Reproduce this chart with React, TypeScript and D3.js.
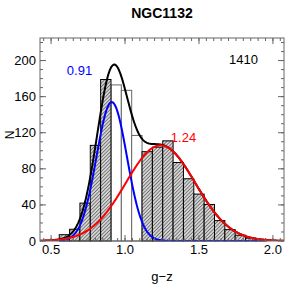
import React from "react";
import * as d3 from "d3";

const binStart = 0.555;
const binWidth = 0.07;
const hatchedCounts = [7, 13, 42, 106, 179, 0, 0, 0, 99, 104, 111, 87, 69, 52, 40.5, 22.6, 12.6, 6.4, 3.2, 1.9];
const openCounts = [0, 0, 0, 0, 0, 173, 167, 117, 0, 0, 0, 0, 0, 0, 0, 0, 0, 0, 0, 0];

const compMeans = [0.91, 1.24];
const compSigmas = [0.103, 0.235];
const compAmps = [154, 106];
const compColors = ["#0000ff", "#ff0000"];
const compLabels = ["0.91", "1.24"];

const xTicks = [0.5, 1.0, 1.5, 2.0];
const yTicks = [0, 40, 80, 120, 160, 200];
const totalN = "1410";
const title = "NGC1132";

const W = 291, H = 291;
const left = 40, right = 284, top = 38, bottom = 241;
const font = "'Liberation Sans', Arial, Helvetica, sans-serif";

export default function App() {
  const x = d3.scaleLinear().domain([0.425, 2.075]).range([left, right]);
  const y = d3.scaleLinear().domain([0, 225]).range([bottom, top]);

  const xs = d3.range(0.425, 2.0751, 0.004);
  const gauss = (v: number, i: number) =>
    compAmps[i] * Math.exp(-((v - compMeans[i]) ** 2) / (2 * compSigmas[i] ** 2));
  const line = d3
    .line<[number, number]>()
    .x((d) => x(d[0]))
    .y((d) => y(d[1]))
    .curve(d3.curveLinear);
  const compPaths = compMeans.map((_, i) => line(xs.map((v) => [v, gauss(v, i)] as [number, number])));
  const sumPath = line(xs.map((v) => [v, gauss(v, 0) + gauss(v, 1)] as [number, number]));

  const xMinor = d3.range(0.45, 2.0751, 0.05);
  const yMinor = d3.range(0, 225, 10);

  return (
    <svg width={W} height={H} style={{ position: "absolute", left: 0, top: 0, background: "#fff" }}>
      <defs>
        <pattern id="hatch" patternUnits="userSpaceOnUse" width={2.5} height={2.5} patternTransform="rotate(45)">
          <rect width={2.5} height={2.5} fill="#d4d4d4" />
          <line x1={0} y1={0} x2={0} y2={2.5} stroke="#444" strokeWidth={1.2} />
        </pattern>
        <clipPath id="plotclip">
          <rect x={left} y={top} width={right - left} height={bottom - top} />
        </clipPath>
      </defs>
      <text x={(left + right) / 2} y={18} textAnchor="middle" fontFamily={font} fontWeight="bold" fontSize={14}>
        {title}
      </text>

      {/* open bars */}
      {openCounts.map((c, i) =>
        c > 0 ? (
          <rect
            key={"o" + i}
            x={x(binStart + i * binWidth)}
            y={y(c)}
            width={x(binStart + (i + 1) * binWidth) - x(binStart + i * binWidth)}
            height={y(0) - y(c)}
            fill="#fff"
            stroke="#666"
            strokeWidth={1}
          />
        ) : null
      )}
      {/* hatched bars */}
      {hatchedCounts.map((c, i) =>
        c > 0 ? (
          <rect
            key={"h" + i}
            x={x(binStart + i * binWidth)}
            y={y(c)}
            width={x(binStart + (i + 1) * binWidth) - x(binStart + i * binWidth)}
            height={y(0) - y(c)}
            fill="url(#hatch)"
            stroke="#000"
            strokeWidth={1}
          />
        ) : null
      )}

      <g clipPath="url(#plotclip)">
        <path d={sumPath || ""} fill="none" stroke="#000" strokeWidth={2} />
        {compPaths.map((p, i) => (
          <path key={"c" + i} d={p || ""} fill="none" stroke={compColors[i]} strokeWidth={2} />
        ))}
      </g>

      {/* frame */}
      <rect x={left} y={top} width={right - left} height={bottom - top} fill="none" stroke="#666" strokeWidth={1} />
      {/* x ticks */}
      {xMinor.map((v, i) => (
        <g key={"xm" + i} stroke="#666" strokeWidth={1}>
          <line x1={x(v)} x2={x(v)} y1={bottom} y2={bottom - 3} />
          <line x1={x(v)} x2={x(v)} y1={top} y2={top + 3} />
        </g>
      ))}
      {xTicks.map((v, i) => (
        <g key={"xt" + i}>
          <line x1={x(v)} x2={x(v)} y1={bottom} y2={bottom - 6} stroke="#666" />
          <line x1={x(v)} x2={x(v)} y1={top} y2={top + 6} stroke="#666" />
          <text x={x(v)} y={254} textAnchor="middle" fontFamily={font} fontSize={13}>
            {d3.format(".1f")(v)}
          </text>
        </g>
      ))}
      {/* y ticks */}
      {yMinor.map((v, i) => (
        <g key={"ym" + i} stroke="#666" strokeWidth={1}>
          <line x1={left} x2={left + 3} y1={y(v)} y2={y(v)} />
          <line x1={right} x2={right - 3} y1={y(v)} y2={y(v)} />
        </g>
      ))}
      {yTicks.map((v, i) => (
        <g key={"yt" + i}>
          <line x1={left} x2={left + 6} y1={y(v)} y2={y(v)} stroke="#666" />
          <line x1={right} x2={right - 6} y1={y(v)} y2={y(v)} stroke="#666" />
          <text x={36} y={y(v) + 4.5} textAnchor="end" fontFamily={font} fontSize={13}>
            {v}
          </text>
        </g>
      ))}

      <text x={162} y={281} textAnchor="middle" fontFamily={font} fontSize={13}>
        g−z
      </text>
      <text transform="translate(14,135) rotate(-90)" textAnchor="middle" fontFamily={font} fontSize={12}>
        N
      </text>

      <text x={79.5} y={75} textAnchor="middle" fontFamily={font} fontSize={13} fill={compColors[0]}>
        {compLabels[0]}
      </text>
      <text x={183.5} y={141.5} textAnchor="middle" fontFamily={font} fontSize={13} fill={compColors[1]}>
        {compLabels[1]}
      </text>
      <text x={243.5} y={64} textAnchor="middle" fontFamily={font} fontSize={13} fill="#000">
        {totalN}
      </text>
    </svg>
  );
}
